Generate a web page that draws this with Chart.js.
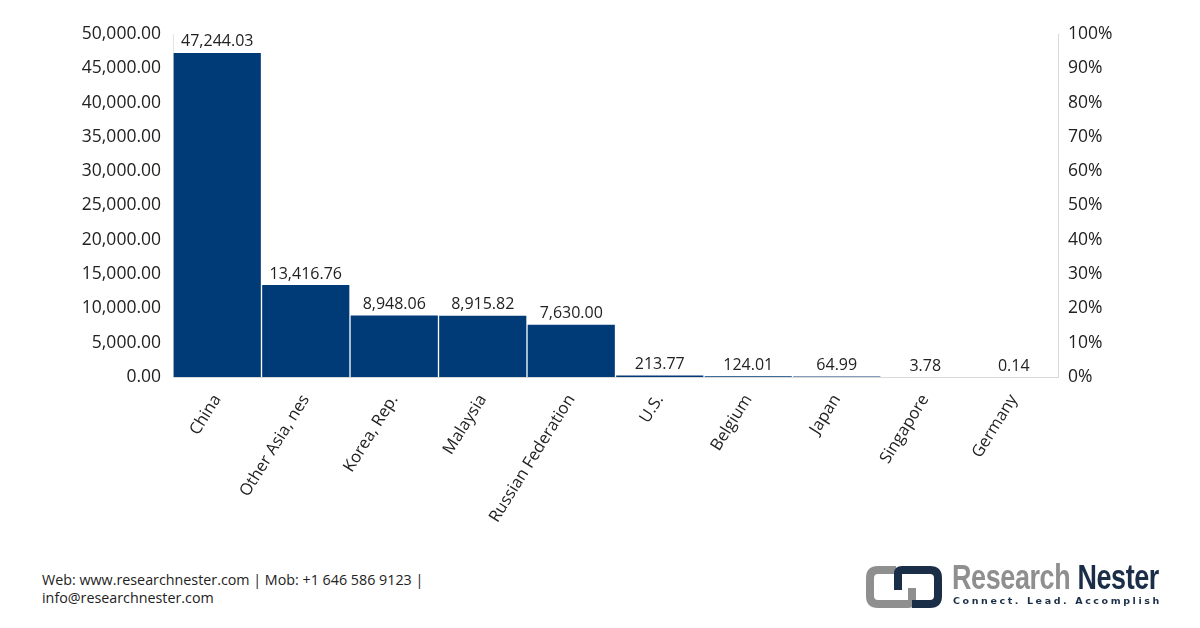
<!DOCTYPE html>
<html>
<head>
<meta charset="utf-8">
<script src="https://cdn.jsdelivr.net/npm/chart.js@4.4.1/dist/chart.umd.min.js"></script>
<style>
  html, body { margin: 0; padding: 0; background: #fff; }
  body { width: 1200px; height: 628px; position: relative; overflow: hidden; font-family: "Open Sans", sans-serif; }
  #wrap { position: absolute; left: 0; top: 0; width: 1200px; height: 560px; }
  .footer { position: absolute; left: 42px; top: 571px; font-size: 14.3px; color: #222; line-height: 18px; }
  .logo { position: absolute; left: 866px; top: 562px; width: 300px; height: 50px; }
  .logo .name { position: absolute; left: 86px; top: -5px; font-family: "Liberation Sans", sans-serif; font-weight: bold; font-size: 35px; letter-spacing: -0.5px; white-space: nowrap; transform: scaleX(0.77); transform-origin: left top; }
  .logo .name .a { color: #8f8f8f; }
  .logo .name .b { color: #1b2e48; }
  .logo .tag { position: absolute; left: 87px; top: 33px; font-family: "DejaVu Sans", sans-serif; font-weight: bold; font-size: 9.5px; letter-spacing: 2.6px; color: #1b2e48; white-space: nowrap; }
</style>
</head>
<body>
<div id="wrap"><canvas id="chart"></canvas></div>

<div class="footer">Web: www.researchnester.com | Mob: +1 646 586 9123 |<br>info@researchnester.com</div>

<div class="logo">
  <svg width="80" height="48" viewBox="0 0 80 48" style="position:absolute;left:0;top:2px">
    <path d="M30 6 H12 Q4 6 4 14 V32 Q4 40 12 40 H30" fill="none" stroke="#8f8f8f" stroke-width="8"/>
    <path d="M26 40 H42 Q46 40 46 36 V24" fill="none" stroke="#8f8f8f" stroke-width="8"/>
    <path d="M46 6 H64 Q72 6 72 14 V32 Q72 40 64 40 H46" fill="none" stroke="#1b2e48" stroke-width="8"/>
    <path d="M50 6 H36 Q32 6 32 10 V26" fill="none" stroke="#1b2e48" stroke-width="8"/>
  </svg>
  <div class="name"><span class="a">Research</span> <span class="b">Nester</span></div>
  <div class="tag">Connect. Lead. Accomplish</div>
</div>

<script>
const categories = ['China', 'Other Asia, nes', 'Korea, Rep.', 'Malaysia', 'Russian Federation', 'U.S.', 'Belgium', 'Japan', 'Singapore', 'Germany'];
const values = [47244.03, 13416.76, 8948.06, 8915.82, 7630.00, 213.77, 124.01, 64.99, 3.78, 0.14];
const leftTicks = [0, 5000, 10000, 15000, 20000, 25000, 30000, 35000, 40000, 45000, 50000];
const rightTicks = [0, 10, 20, 30, 40, 50, 60, 70, 80, 90, 100];

const fmt = (v) => v.toLocaleString('en-US', { minimumFractionDigits: 2, maximumFractionDigits: 2 });

// value labels above each bar, placed via the bar elements
const valueLabels = {
  id: 'valueLabels',
  afterDatasetsDraw(chart) {
    const ctx = chart.ctx;
    const meta = chart.getDatasetMeta(0);
    ctx.save();
    ctx.font = '16px "Open Sans", sans-serif';
    ctx.fillStyle = '#222';
    ctx.textAlign = 'center';
    ctx.textBaseline = 'middle';
    meta.data.forEach((bar, i) => {
      ctx.fillText(fmt(values[i]), bar.x, bar.y - 11);
    });
    ctx.restore();
  },
};

new Chart(document.getElementById('chart'), {
  type: 'bar',
  data: {
    labels: categories,
    datasets: [
      {
        data: values,
        backgroundColor: '#003b78',
        barPercentage: 0.985,
        categoryPercentage: 1,
        yAxisID: 'y',
      },
    ],
  },
  options: {
    responsive: true,
    maintainAspectRatio: false,
    animation: false,
    layout: { padding: { top: 34, left: 0, right: 0, bottom: 0 } },
    plugins: {
      legend: { display: false },
      tooltip: { enabled: false },
    },
    scales: {
      x: {
        grid: { display: false, drawTicks: false },
        border: { color: '#d9d9d9', width: 1 },
        ticks: {
          color: '#222',
          font: { family: 'Open Sans', size: 16.5 },
          minRotation: 58,
          maxRotation: 58,
          padding: 14,
          autoSkip: false,
        },
        afterFit: (s) => { s.height = 183; },
      },
      y: {
        position: 'left',
        min: 0,
        max: 50000,
        afterBuildTicks: (s) => { s.ticks = leftTicks.map((v) => ({ value: v })); },
        grid: { display: false, drawTicks: false },
        border: { color: '#e3e3e3', width: 1 },
        ticks: {
          color: '#222',
          font: { family: 'Open Sans', size: 17.5 },
          padding: 12,
          callback: (v) => fmt(v),
        },
        afterFit: (s) => { s.width = 173; },
      },
      y2: {
        position: 'right',
        min: 0,
        max: 100,
        afterBuildTicks: (s) => { s.ticks = rightTicks.map((v) => ({ value: v })); },
        grid: { display: false, drawTicks: false },
        border: { color: '#d9d9d9', width: 1 },
        ticks: {
          color: '#222',
          font: { family: 'Open Sans', size: 17.5 },
          padding: 10,
          callback: (v) => v + '%',
        },
        afterFit: (s) => { s.width = 142; },
      },
    },
  },
  plugins: [valueLabels],
});
</script>
</body>
</html>
